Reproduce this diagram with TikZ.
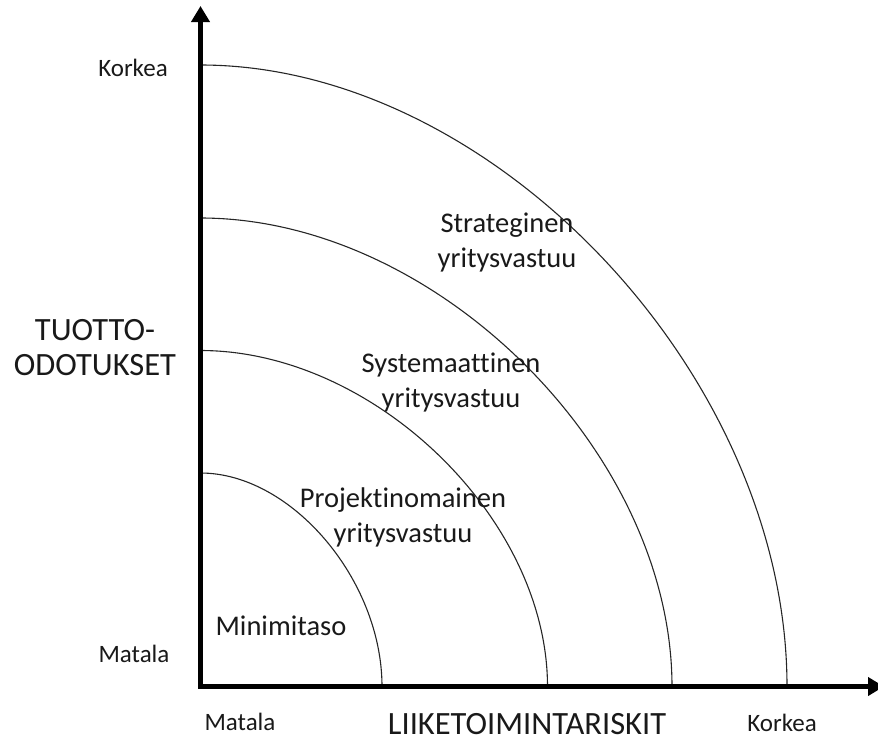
\documentclass[tikz,border=0pt]{standalone}
\usepackage{fontspec}
\setmainfont{Carlito}[Ligatures=NoCommon]
\usetikzlibrary{arrows.meta}
\tikzset{
  axis/.style={line width=5pt, line join=miter, draw=black,
    {Triangle[width=18pt,length=16pt]}-{Triangle[width=18pt,length=16pt]}},
  ring/.style={line width=1.1pt, draw=black!85},
  ticklabel/.style={font=\fontsize{25}{30}\selectfont, text=black!90, inner sep=0pt, anchor=base},
  axistitle/.style={font=\fontsize{32.5}{35.5}\selectfont, text=black!90, inner sep=0pt, anchor=base, align=center},
  zonelabel/.style={font=\fontsize{28.5}{35}\selectfont, text=black!90, inner sep=0pt, anchor=base, align=center}
}
\begin{document}
\begin{tikzpicture}[x=1pt,y=-1pt]
\useasboundingbox (0,0) rectangle (878,740);

% origin and axis ends
\coordinate (O) at (200.5,686.5);
\coordinate (ytip) at (200.5,6);
\coordinate (xtip) at (884,686.5);

% quarter rings, inner to outer
\coordinate (r1a) at (200.5,473);   \coordinate (r1b) at (382,686.5);
\coordinate (r2a) at (200.5,350.5); \coordinate (r2b) at (547.5,686.5);
\coordinate (r3a) at (200.5,218);   \coordinate (r3b) at (672,686.5);
\coordinate (r4a) at (200.5,65);    \coordinate (r4b) at (787,686.5);

\draw[ring] (r1a) .. controls (291.25,473) and (382,579.75) .. (r1b);
\draw[ring] (r2a) .. controls (374,350.5) and (547.5,518.5) .. (r2b);
\draw[ring] (r3a) .. controls (436.25,218) and (672,452.25) .. (r3b);
\draw[ring] (r4a) .. controls (493.75,65) and (787,375.75) .. (r4b);

% axes
\draw[axis] (ytip) -- (O) -- (xtip);

% axis labels (multi-line nodes sit on the baseline of their last line)
\node[ticklabel] (ymax) at (133,76) {Korkea};
\node[ticklabel] (ymin) at (134,662) {Matala};
\node[ticklabel] (xmin) at (240,730) {Matala};
\node[ticklabel] (xmax) at (782,731) {Korkea};
\node[axistitle, text depth=0pt] (xtitle) at (527,734) {LIIKETOIMINTARISKIT};
\node[axistitle] (ytitle) at (95,375.5) {TUOTTO-\\ODOTUKSET};

% zone labels
\node[zonelabel] (z4) at (507,267) {Strateginen\\yritysvastuu};
\node[zonelabel] (z3) at (451,407) {Systemaattinen\\yritysvastuu};
\node[zonelabel] (z2) at (403,542) {Projektinomainen\\yritysvastuu};
\node[zonelabel] (z1) at (281,635) {Minimitaso};
\end{tikzpicture}
\end{document}
